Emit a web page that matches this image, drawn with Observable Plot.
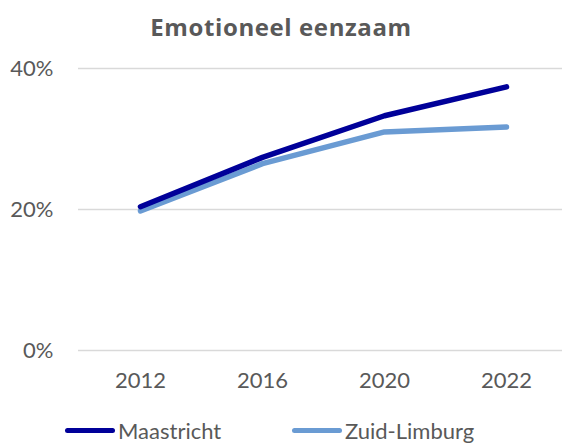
<!DOCTYPE html>
<html>
<head>
<meta charset="utf-8">
<script src="https://cdn.jsdelivr.net/npm/d3@7"></script>
<script src="https://cdn.jsdelivr.net/npm/@observablehq/plot@0.6"></script>
<style>
  body { margin: 0; background: #fff; width: 562px; height: 443px; overflow: hidden; font-family: Lato, "Open Sans", sans-serif; }
  #title { height: 45px; text-align: center; font-weight: bold; font-size: 24px; letter-spacing: 0.6px; color: #595959; line-height: 54px; font-family: "Open Sans", Lato, sans-serif; }
  #legend { position: absolute; top: 418px; left: 0; width: 562px; height: 25px; color: #595959; font-size: 22px; line-height: 25px; }
  .item { position: absolute; top: 0; display: flex; align-items: center; height: 25px; }
  .sw { width: 50px; height: 5px; border-radius: 3px; margin-right: 3px; }
  svg text { fill: #595959; }
</style>
</head>
<body>
<div id="title">Emotioneel eenzaam</div>
<div id="chart"></div>
<div id="legend"></div>
<script>
const years = ["2012", "2016", "2020", "2022"];
const maastricht = [0.204, 0.274, 0.333, 0.374];
const zuidLimburg = [0.198, 0.265, 0.310, 0.317];
const seriesNames = ["Maastricht", "Zuid-Limburg"];
const seriesColors = ["#000099", "#6A9BD3"];
const yTicks = [0, 0.2, 0.4];

const data = [];
years.forEach((y, i) => {
  data.push({year: y, value: maastricht[i], series: seriesNames[0]});
  data.push({year: y, value: zuidLimburg[i], series: seriesNames[1]});
});

const plot = Plot.plot({
  width: 562,
  height: 362,
  marginLeft: 78,
  marginRight: 0,
  marginTop: 23,
  marginBottom: 57,
  style: {fontFamily: "Lato, 'Open Sans', sans-serif", fontSize: "22px", color: "#595959", background: "#fff"},
  x: {type: "point", domain: years, range: [139, 506], padding: 0, label: null, tickSize: 0, tickPadding: 23},
  y: {domain: [0, 0.4], ticks: yTicks, tickFormat: d => Math.round(d * 100) + "%", label: null, tickSize: 0, tickPadding: 23},
  color: {domain: seriesNames, range: seriesColors},
  marks: [
    Plot.gridY(yTicks, {stroke: "#D9D9D9", strokeOpacity: 1, strokeWidth: 1.5}),
    Plot.axisX({tickSize: 0, tickPadding: 22}),
    Plot.axisY({ticks: yTicks, tickSize: 0, tickPadding: 25, tickFormat: d => Math.round(d * 100) + "%"}),
    Plot.line(data.filter(d => d.series === seriesNames[1]), {x: "year", y: "value", stroke: "series", strokeWidth: 5.5, strokeLinecap: "round", strokeLinejoin: "round"}),
    Plot.line(data.filter(d => d.series === seriesNames[0]), {x: "year", y: "value", stroke: "series", strokeWidth: 5.5, strokeLinecap: "round", strokeLinejoin: "round"})
  ]
});
document.getElementById("chart").appendChild(plot);

const legend = document.getElementById("legend");
const lefts = [65, 292];
seriesNames.forEach((n, i) => {
  const it = document.createElement("div");
  it.className = "item";
  it.style.left = lefts[i] + "px";
  const sw = document.createElement("div");
  sw.className = "sw";
  sw.style.background = seriesColors[i];
  const t = document.createElement("span");
  t.textContent = n;
  it.appendChild(sw); it.appendChild(t);
  legend.appendChild(it);
});
</script>
</body>
</html>
